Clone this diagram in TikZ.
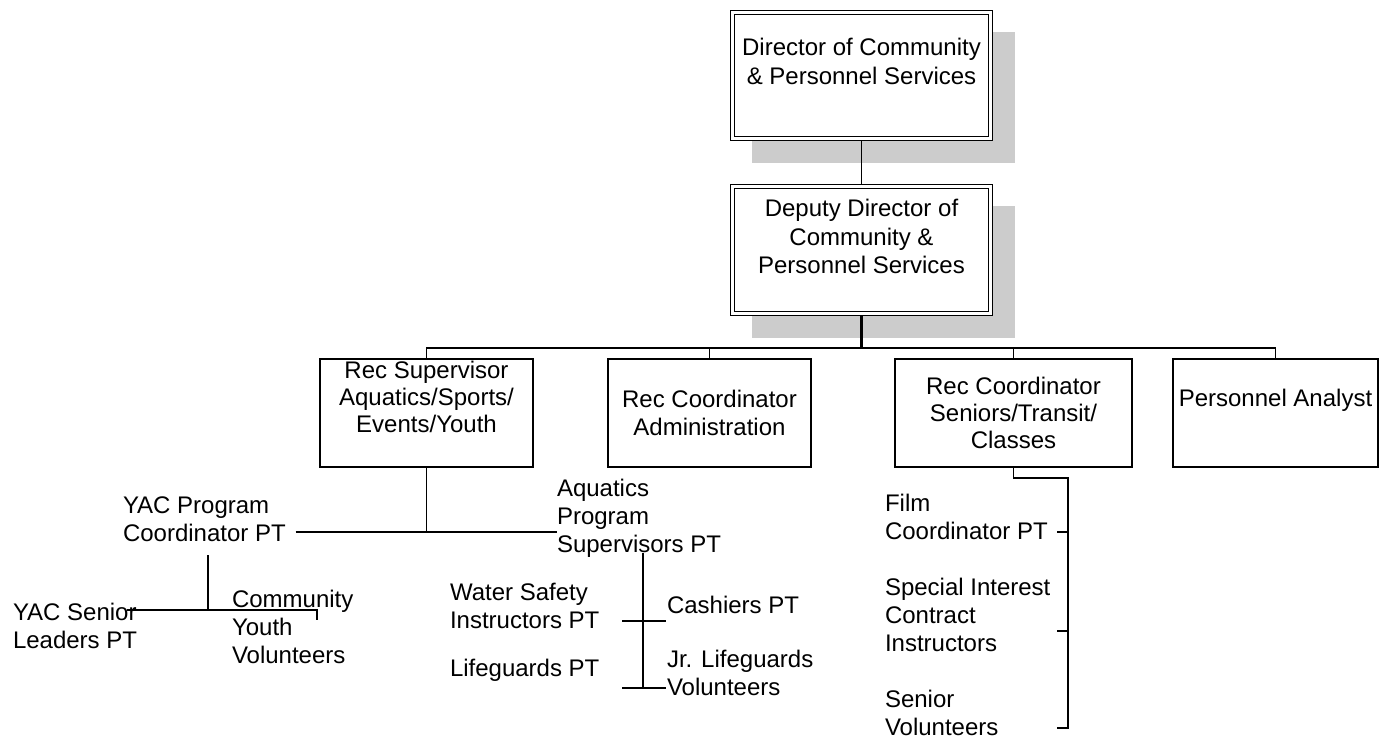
\documentclass[tikz,border=0pt]{standalone}
\usepackage{fontspec}
\setmainfont{Liberation Sans}
\usetikzlibrary{calc}
\begin{document}
\begin{tikzpicture}[x=1pt,y=-1pt,
  txt/.style={inner sep=0pt, outer sep=0pt, font=\fontsize{24}{28}\selectfont},
  ltxt/.style={txt, align=left, anchor=west},
  ctxt/.style={txt, align=center},
  topbox/.style={draw, line width=1.2pt, double=white, double distance=2.4pt, fill=white,
    minimum width=258pt, minimum height=126pt, inner sep=0pt, outer sep=2.4pt},
  midbox/.style={draw, line width=1.4pt, fill=white, inner sep=0pt, outer sep=0pt, minimum height=108pt},
  shadowbox/.style={fill=black!20, draw=none},
  link/.style={line width=1.4pt},
  trunk/.style={line width=2.2pt}]
\useasboundingbox (0,0) rectangle (1393,740);

% shadows
\fill[shadowbox] (752,32) rectangle (1015,163);
\fill[shadowbox] (752,206) rectangle (1015,338);

% top boxes
\node[topbox] (dir) at (861.5,75.5) {};
\node[ctxt, font=\fontsize{24}{29}\selectfont] (dirt) at (861.5,61.5) {Director of Community\\\& Personnel Services};
\node[topbox, minimum height=127pt] (dep) at (861.5,250) {};
\node[ctxt, font=\fontsize{24}{28.5}\selectfont] (dept) at (861.5,236.5) {Deputy Director of\\Community \&\\Personnel Services};

% middle boxes
\node[midbox, minimum width=213pt] (rs) at (426.5,413) {};
\node[ctxt, font=\fontsize{24}{27}\selectfont] (rst) at (426.5,397) {Rec Supervisor\\Aquatics/Sports/\\Events/Youth};
\node[midbox, minimum width=203pt] (rca) at (709.5,413) {};
\node[ctxt] (rcat) at (709.5,413) {Rec Coordinator\\Administration};
\node[midbox, minimum width=237pt] (rcs) at (1013.5,413) {};
\node[ctxt, font=\fontsize{24}{27}\selectfont] (rcst) at (1013.5,413) {Rec Coordinator\\Seniors/Transit/\\Classes};
\node[midbox, minimum width=205pt] (pa) at (1275.5,413) {};
\node[ctxt] (pat) at (1275.5,400) {Personnel Analyst};

% upper connectors
\coordinate (bus) at (861.5,348);
\draw[link] (dir.south) -- (dep.north);
\draw[trunk] (dep.south) -- (bus);
\draw[link] (rs.north) |- (bus) -| (pa.north);
\draw[link] (rca.north) -- (rca.north |- bus);
\draw[link] (rcs.north) -- (rcs.north |- bus);

% lower texts
\node[ltxt] (yac) at (123,519) {YAC Program\\Coordinator PT};
\node[ltxt] (aqs) at (557,518) {Aquatics\\Program\\Supervisors PT};
\node[ltxt] (ysl) at (13,626) {YAC Senior\\Leaders PT};
\node[ltxt] (cyv) at (232,627) {Community\\Youth\\Volunteers};
\node[ltxt] (ws) at (450,606) {Water Safety\\Instructors PT};
\node[ltxt] (lg) at (450,670) {Lifeguards PT};
\node[ltxt] (cash) at (667,605) {Cashiers PT};
\node[ltxt] (jr) at (667,673) {Jr. Lifeguards\\Volunteers};
\node[ltxt] (film) at (885,517) {Film\\Coordinator PT};
\node[ltxt] (spec) at (885,615) {Special Interest\\Contract\\Instructors};
\node[ltxt] (senv) at (885,713) {Senior\\Volunteers};

% rec supervisor branch
\coordinate (yj) at (426.5,532);
\draw[link] (rs.south) -- (yj);
\draw[link] ($(yac.east |- yj)+(10,0)$) -- (aqs.west |- yj);

% YAC branch
\coordinate (ytop) at (208,555);
\coordinate (yjn) at (208,610);
\coordinate (yl) at (127,610);
\coordinate (yr) at (317,610);
\coordinate (yrb) at (317,620);
\draw[link] (ytop) -- (yjn);
\draw[link] (yl) -- (yr) -- (yrb);

% aquatics branch
\coordinate (atop) at (643,553);
\coordinate (abot) at (643,688);
\coordinate (w1l) at (622,621);
\coordinate (w1r) at (666,621);
\coordinate (w2l) at (622,688);
\coordinate (w2r) at (666,688);
\draw[link] (atop) -- (abot);
\draw[link] (w1l) -- (w1r);
\draw[link] (w2l) -- (w2r);

% seniors branch
\coordinate (rj) at (1013.5,478);
\coordinate (rt) at (1068,478);
\coordinate (rb) at (1068,728);
\coordinate (k1) at (1057,532);
\coordinate (k2) at (1057,631);
\coordinate (k3) at (1057,728);
\draw[link] (rcs.south) -- (rj) -- (rt) -- (rb) -- (k3);
\draw[link] (k1) -- (k1 -| rt);
\draw[link] (k2) -- (k2 -| rt);
\end{tikzpicture}
\end{document}
